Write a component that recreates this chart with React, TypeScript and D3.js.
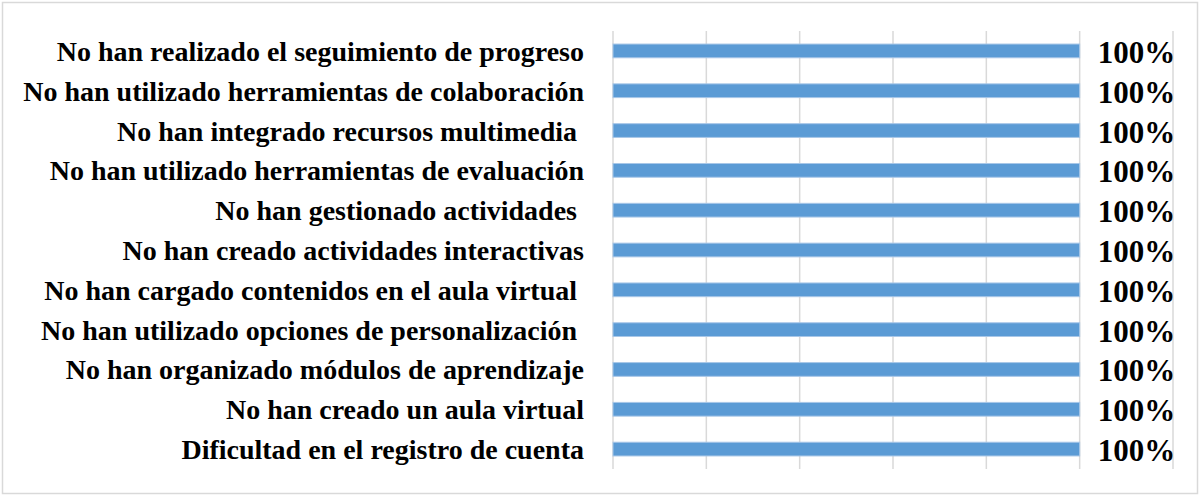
import { useRef, useEffect } from 'react';
import * as d3 from 'd3';

// categories, top to bottom
const categories = [
  'No han realizado el seguimiento de progreso',
  'No han utilizado herramientas de colaboración',
  'No han integrado recursos multimedia ',
  'No han utilizado herramientas de evaluación',
  'No han gestionado actividades ',
  'No han creado actividades interactivas',
  'No han cargado contenidos en el aula virtual ',
  'No han utilizado opciones de personalización ',
  'No han organizado módulos de aprendizaje',
  'No han creado un aula virtual',
  'Dificultad en el registro de cuenta',
];
const values = [1, 1, 1, 1, 1, 1, 1, 1, 1, 1, 1];
const gridTicks = [0, 0.2, 0.4, 0.6, 0.8, 1, 1.2];

export default function App() {
  const svgRef = useRef<SVGSVGElement>(null);

  useEffect(() => {
    const w = 1200;
    const h = 496;
    const svg = d3.select(svgRef.current);
    svg.selectAll('*').remove();

    // outer border
    svg
      .append('rect')
      .attr('x', 2.5)
      .attr('y', 2.5)
      .attr('width', w - 5)
      .attr('height', h - 5)
      .attr('fill', '#fff')
      .attr('stroke', '#d9d9d9')
      .attr('stroke-width', 1.5);

    const xScale = d3.scaleLinear().domain([0, 1.2]).range([613, 1173]);
    const yScale = d3
      .scaleBand()
      .domain(categories)
      .range([31, 469])
      .paddingInner(0.655)
      .paddingOuter(0.3275);

    // gridlines
    svg
      .selectAll('line.grid')
      .data(gridTicks)
      .enter()
      .append('line')
      .attr('class', 'grid')
      .attr('x1', (d) => xScale(d))
      .attr('x2', (d) => xScale(d))
      .attr('y1', 31)
      .attr('y2', 469)
      .attr('stroke', '#d9d9d9')
      .attr('stroke-width', 1.5);

    const rows = categories.map((c, i) => ({ label: c, value: values[i] }));

    // bars
    svg
      .selectAll('rect.bar')
      .data(rows)
      .enter()
      .append('rect')
      .attr('class', 'bar')
      .attr('x', xScale(0))
      .attr('y', (d) => yScale(d.label)!)
      .attr('width', (d) => xScale(d.value) - xScale(0))
      .attr('height', yScale.bandwidth())
      .attr('fill', '#5b9bd5')
      .attr('stroke', '#a8c7e8')
      .attr('stroke-width', 1);

    const font = "'Liberation Serif', serif";

    // category labels
    svg
      .selectAll('text.cat')
      .data(rows)
      .enter()
      .append('text')
      .attr('class', 'cat')
      .attr('x', 584)
      .attr('y', (d) => yScale(d.label)! + yScale.bandwidth() / 2 + 10)
      .attr('text-anchor', 'end')
      .style('white-space', 'pre')
      .style('font-family', font)
      .style('font-weight', 'bold')
      .style('font-size', '28px')
      .attr('fill', '#000')
      .text((d) => d.label);

    // value labels
    svg
      .selectAll('text.val')
      .data(rows)
      .enter()
      .append('text')
      .attr('class', 'val')
      .attr('x', (d) => xScale(d.value) + 18)
      .attr('y', (d) => yScale(d.label)! + yScale.bandwidth() / 2 + 12)
      .style('font-family', font)
      .style('font-weight', 'bold')
      .style('font-size', '31px')
      .attr('fill', '#000')
      .text((d) => d3.format('.0%')(d.value));
  }, []);

  return (
    <svg
      ref={svgRef}
      width={1200}
      height={496}
      style={{ position: 'absolute', left: 0, top: 0 }}
    ></svg>
  );
}
